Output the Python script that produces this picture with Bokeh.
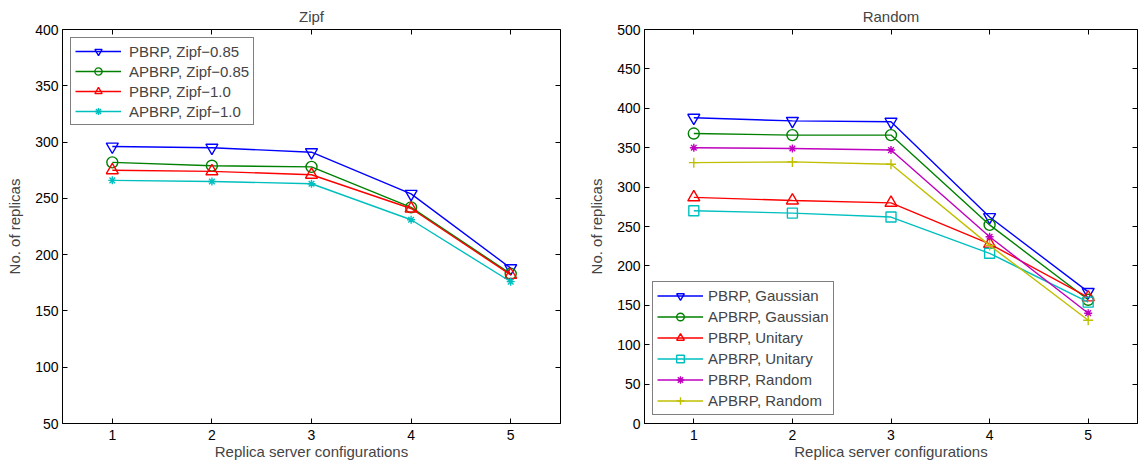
from bokeh.plotting import figure
from bokeh.layouts import row
from bokeh.models import LinearAxis, FixedTicker, Range1d, Legend, LegendItem, CustomJSTickFormatter
from bokeh.embed import file_html
from bokeh.resources import INLINE

configs = [1, 2, 3, 4, 5]

# Zipf panel
zipf_pbrp_085 = [296, 295, 291, 254, 188]
zipf_apbrp_085 = [282, 279, 278, 242, 183]
zipf_pbrp_10 = [275, 274, 271, 241, 182]
zipf_apbrp_10 = [266, 265, 263, 231, 176]

# Random panel
rnd_pbrp_gauss = [388, 384, 383, 262, 167]
rnd_apbrp_gauss = [368, 366, 366, 252, 157]
rnd_pbrp_unit = [287, 283, 280, 228, 160]
rnd_apbrp_unit = [270, 267, 262, 216, 154]
rnd_pbrp_rand = [350, 349, 347, 237, 140]
rnd_apbrp_rand = [331, 332, 329, 226, 131]

left_yticks = [50, 100, 150, 200, 250, 300, 350, 400]
right_yticks = [0, 50, 100, 150, 200, 250, 300, 350, 400, 450, 500]

FONT = "Liberation Sans"
BLUE, GREEN, RED, CYAN, MAGENTA, YELLOW = "#0000FF", "#008000", "#FF0000", "#00BFBF", "#BF00BF", "#BFBF00"


def make_fig(title, yr, yticks, width, border_left, border_right):
    p = figure(width=width, height=470, output_backend="svg", toolbar_location=None,
               x_range=Range1d(0.5, 5.5), y_range=Range1d(*yr),
               min_border_left=border_left, min_border_right=border_right,
               min_border_top=29, min_border_bottom=47)
    p.title.text = title
    p.title.align = "center"
    p.title.text_font = FONT
    p.title.text_font_size = "15px"
    p.title.text_font_style = "normal"
    p.title.standoff = 10
    p.xgrid.visible = False
    p.ygrid.visible = False
    p.outline_line_color = "black"
    p.outline_line_width = 1
    p.xaxis.ticker = FixedTicker(ticks=configs)
    p.yaxis.ticker = FixedTicker(ticks=yticks)
    for ax in (p.xaxis[0], p.yaxis[0]):
        ax.major_tick_in = 5
        ax.major_tick_out = 0
        ax.minor_tick_in = 0
        ax.minor_tick_out = 0
        ax.major_label_text_font = FONT
        ax.major_label_text_font_size = "14px"
        ax.major_label_text_color = "black"
        ax.axis_label_text_font = FONT
        ax.axis_label_text_font_size = "15px"
        ax.axis_label_text_font_style = "normal"
        ax.axis_line_color = "black"
        ax.major_tick_line_color = "black"
    p.xaxis.axis_label = "Replica server configurations"
    p.yaxis.axis_label = "No. of replicas"
    p.xaxis.major_label_standoff = 6
    p.yaxis.major_label_standoff = 4
    p.xaxis.axis_label_standoff = 0
    p.yaxis.axis_label_standoff = 9
    for loc, ticks in (("above", configs), ("right", yticks)):
        ax = LinearAxis(ticker=FixedTicker(ticks=ticks),
                        formatter=CustomJSTickFormatter(code="return ''"))
        ax.major_tick_in = 5
        ax.major_tick_out = 0
        ax.minor_tick_in = 0
        ax.minor_tick_out = 0
        ax.axis_line_color = None
        ax.major_label_standoff = 0
        p.add_layout(ax, loc)
    return p


def add_series(p, ys, color, marker, label, items, size=10):
    r1 = p.line(configs, ys, line_color=color, line_width=1.4)
    r2 = p.scatter(configs, ys, marker=marker, size=size, line_color=color,
                   fill_color=None if marker not in ("asterisk", "cross") else color,
                   line_width=1.4)
    items.append(LegendItem(label=label, renderers=[r1, r2]))


def style_legend(leg, loc, row_h, standoff):
    leg.location = loc
    leg.margin = 8
    leg.border_line_color = "black"
    leg.border_line_width = 1
    leg.label_text_font = FONT
    leg.label_text_font_size = "15px"
    leg.glyph_width = 46
    leg.glyph_height = row_h
    leg.label_height = row_h
    leg.spacing = 2
    leg.padding = 4
    leg.label_standoff = standoff
    leg.background_fill_alpha = 1


p1 = make_fig("Zipf", (50, 400), left_yticks, 580, 62, 20)
items1 = []
add_series(p1, zipf_pbrp_085, BLUE, "inverted_triangle", "PBRP, Zipf\u22120.85", items1, 12)
add_series(p1, zipf_apbrp_085, GREEN, "circle", "APBRP, Zipf\u22120.85", items1, 11)
add_series(p1, zipf_pbrp_10, RED, "triangle", "PBRP, Zipf\u22121.0", items1, 12)
add_series(p1, zipf_apbrp_10, CYAN, "asterisk", "APBRP, Zipf\u22121.0", items1, 8)
leg1 = Legend(items=items1)
style_legend(leg1, "top_left", 18, 8)
p1.add_layout(leg1, "center")

p2 = make_fig("Random", (0, 500), right_yticks, 566, 64, 9)
items2 = []
add_series(p2, rnd_pbrp_gauss, BLUE, "inverted_triangle", "PBRP, Gaussian", items2, 12)
add_series(p2, rnd_apbrp_gauss, GREEN, "circle", "APBRP, Gaussian", items2, 11)
add_series(p2, rnd_pbrp_unit, RED, "triangle", "PBRP, Unitary", items2, 12)
add_series(p2, rnd_apbrp_unit, CYAN, "square", "APBRP, Unitary", items2, 10)
add_series(p2, rnd_pbrp_rand, MAGENTA, "asterisk", "PBRP, Random", items2, 8)
add_series(p2, rnd_apbrp_rand, YELLOW, "cross", "APBRP, Random", items2, 10)
leg2 = Legend(items=items2)
style_legend(leg2, "bottom_left", 19, 5)
p2.add_layout(leg2, "center")

layout = row(p1, p2)
open("out.html", "w").write(file_html(layout, INLINE))
